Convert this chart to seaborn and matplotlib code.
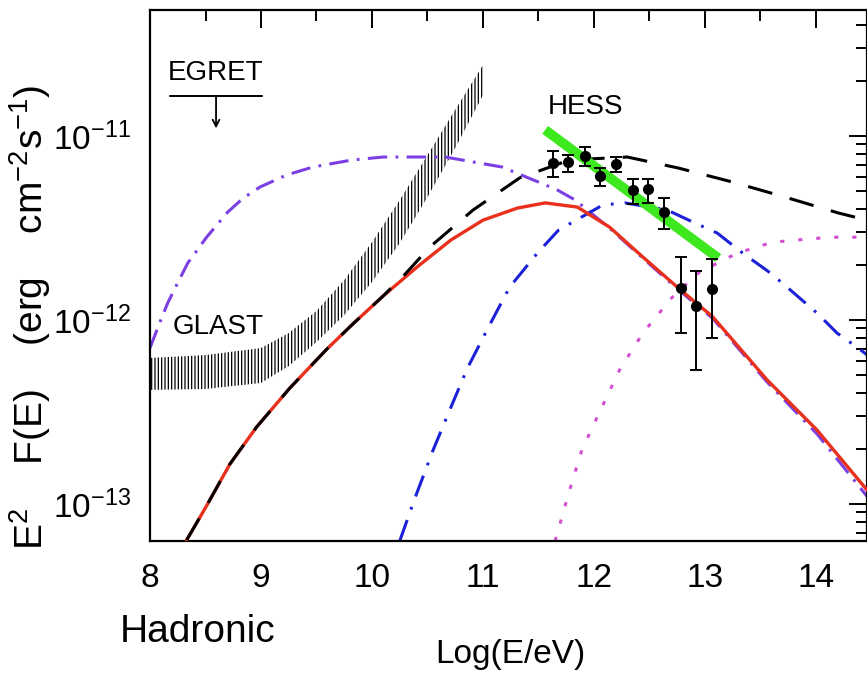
import numpy as np
import matplotlib
matplotlib.use("Agg")
import matplotlib.pyplot as plt
from matplotlib.ticker import MultipleLocator, LogLocator, NullFormatter, FixedLocator, FixedFormatter
import seaborn as sns

# Energies are log10(E/eV); fluxes are E^2 F(E) in units of 1e-12 erg cm^-2 s^-1
total_logE = [8.33, 8.50, 8.72, 8.96, 9.26, 9.59, 9.83, 10.10, 10.41, 10.71, 11.00,
              11.31, 11.56, 11.85, 12.14, 12.44, 12.75, 13.07, 13.56, 14.01, 14.46]
total_flux = [0.0637, 0.0955, 0.165, 0.262, 0.427, 0.692, 0.955, 1.35, 1.95, 2.72, 3.49,
              4.06, 4.33, 4.11, 3.20, 2.20, 1.51, 1.04, 0.472, 0.252, 0.119]

dashed_logE = [8.33, 8.50, 8.72, 8.96, 9.26, 9.59, 9.83, 10.10, 10.30, 10.52, 10.91,
               11.33, 11.78, 12.30, 12.76, 13.25, 13.72, 14.20, 14.46]
dashed_flux = [0.0637, 0.0955, 0.165, 0.262, 0.427, 0.692, 0.955, 1.35, 1.78, 2.49, 3.96,
               5.92, 7.41, 7.69, 6.70, 5.62, 4.66, 3.82, 3.49]

violet_logE = [8.00, 8.09, 8.16, 8.24, 8.34, 8.51, 8.70, 8.84, 8.99, 9.23, 9.47, 9.82,
               10.10, 10.43, 10.66, 10.91, 11.17, 11.50, 11.67, 11.83, 12.00, 12.14,
               12.44, 12.75, 13.07, 13.56, 14.01, 14.46]
violet_flux = [0.705, 0.975, 1.24, 1.55, 2.04, 2.82, 3.86, 4.60, 5.28, 6.14, 6.79, 7.41,
               7.69, 7.69, 7.69, 7.23, 6.79, 5.62, 5.09, 4.49, 3.70, 3.16,
               2.17, 1.48, 1.02, 0.46, 0.24, 0.11]

blue_logE = [10.25, 10.39, 10.55, 10.70, 10.86, 11.05, 11.24, 11.49, 11.68, 12.08, 12.28,
             12.66, 12.89, 13.11, 13.34, 13.59, 13.79, 14.01, 14.19, 14.38, 14.46]
blue_flux = [0.063, 0.109, 0.196, 0.324, 0.548, 0.916, 1.51, 2.31, 3.08, 4.22, 4.33,
             3.96, 3.41, 2.97, 2.31, 1.80, 1.42, 1.09, 0.849, 0.705, 0.646]

magenta_logE = [11.65, 11.78, 11.89, 12.05, 12.23, 12.44, 12.70, 12.95, 13.29, 13.61, 14.13, 14.46]
magenta_flux = [0.063, 0.119, 0.196, 0.316, 0.535, 0.849, 1.32, 1.82, 2.31, 2.65, 2.82, 2.82]

hess_fit_logE = [11.56, 13.12]
hess_fit_flux = [10.8, 2.17]

hess_logE = [11.63, 11.77, 11.92, 12.05, 12.20, 12.35, 12.49, 12.63, 12.78, 12.92, 13.06]
hess_flux = [7.13, 7.23, 7.78, 6.07, 7.05, 5.09, 5.15, 3.86, 1.49, 1.19, 1.47]
hess_low = [5.98, 6.37, 6.87, 5.35, 6.37, 4.27, 4.33, 3.13, 0.849, 0.535, 0.798]
hess_high = [8.28, 7.89, 8.71, 6.70, 7.69, 5.83, 5.83, 4.60, 2.20, 1.85, 2.15]

glast_logE = [8.0, 8.5, 9.0, 9.25, 9.5, 9.75, 10.0, 10.25, 10.5, 10.75, 11.0]
glast_low = [0.417, 0.422, 0.455, 0.562, 0.759, 1.065, 1.61, 2.62, 4.66, 8.61, 16.7]
glast_high = [0.622, 0.645, 0.704, 0.850, 1.12, 1.65, 2.65, 4.49, 7.88, 13.9, 24.3]

egret_limit_logE = [8.18, 9.01]
egret_limit_flux = 16.5

x_ticks = [8, 9, 10, 11, 12, 13, 14]
y_ticks = [1e-13, 1e-12, 1e-11]
y_tick_labels = [r"$10^{-13}$", r"$10^{-12}$", r"$10^{-11}$"]

UNIT = 1e-12

sns.set_style("white")
plt.rcParams["font.family"] = ["Liberation Sans", "DejaVu Sans"]
plt.rcParams["mathtext.fontset"] = "custom"
plt.rcParams["mathtext.rm"] = "Liberation Sans"
plt.rcParams["mathtext.it"] = "Liberation Sans"
plt.rcParams["mathtext.bf"] = "Liberation Sans"
plt.rcParams["text.color"] = "black"
plt.rcParams["axes.labelcolor"] = "black"
plt.rcParams["xtick.color"] = "black"
plt.rcParams["ytick.color"] = "black"
plt.rcParams["lines.scale_dashes"] = False
plt.rcParams["hatch.linewidth"] = 0.9

fig = plt.figure(figsize=(8.67, 6.73), dpi=100)
ax = fig.add_axes([150 / 867, 132 / 673, 717 / 867, 531 / 673])
ax.set_yscale("log")

def u(vals):
    return np.asarray(vals, dtype=float) * UNIT

# GLAST sensitivity band
ax.fill_between(glast_logE, u(glast_low), u(glast_high), facecolor="none",
                edgecolor="black", hatch="|||||", linewidth=0, zorder=1)

sns.lineplot(x=violet_logE, y=u(violet_flux), ax=ax, color="#7b3fe4", lw=2.2,
             linestyle=(0, (14, 6, 2, 6)), sort=False, estimator=None, zorder=2)
sns.lineplot(x=blue_logE, y=u(blue_flux), ax=ax, color="#1c22d8", lw=2.2,
             linestyle=(0, (16, 8, 2, 8)), sort=False, estimator=None, zorder=2)
sns.lineplot(x=magenta_logE, y=u(magenta_flux), ax=ax, color="#d34fd0", lw=2.2,
             linestyle=(0, (3, 10)), sort=False, estimator=None, zorder=2)
sns.lineplot(x=total_logE, y=u(total_flux), ax=ax, color="#e8301c", lw=2.4,
             sort=False, estimator=None, zorder=3)
sns.lineplot(x=dashed_logE, y=u(dashed_flux), ax=ax, color="black", lw=2.2,
             linestyle=(0, (18, 13)), sort=False, estimator=None, zorder=4)
sns.lineplot(x=hess_fit_logE, y=u(hess_fit_flux), ax=ax, color="#3ee81e", lw=7,
             solid_capstyle="butt", sort=False, estimator=None, zorder=4)

flux = u(hess_flux)
yerr = [flux - u(hess_low), u(hess_high) - flux]
ax.errorbar(hess_logE, flux, yerr=yerr, fmt="o", color="black", ms=7,
            capsize=4, elinewidth=1.4, capthick=1.4, zorder=5)

# EGRET upper limit
ax.plot(egret_limit_logE, [egret_limit_flux * UNIT] * 2, color="black", lw=1.4)
mid = np.mean(egret_limit_logE)
ax.annotate("", xy=(mid, 11.0 * UNIT), xytext=(mid, egret_limit_flux * UNIT),
            arrowprops=dict(arrowstyle="->", lw=1.3, color="black",
                            shrinkA=0, shrinkB=0, mutation_scale=12))
ax.text(mid, 22.0 * UNIT, "EGRET", ha="center", va="center", fontsize=20)
ax.text(8.2, 0.916 * UNIT, "GLAST", ha="left", va="center", fontsize=20)
ax.text(11.92, 14.4 * UNIT, "HESS", ha="center", va="center", fontsize=20)

ax.set_xlim(8, 8 + 717 / 111)
ax.set_ylim(10 ** -13.201, 10 ** -10.315)

ax.xaxis.set_major_locator(FixedLocator(x_ticks))
ax.xaxis.set_minor_locator(MultipleLocator(0.5))
ax.set_xticklabels([str(t) for t in x_ticks])
ax.yaxis.set_major_locator(FixedLocator(y_ticks))
ax.yaxis.set_major_formatter(FixedFormatter(y_tick_labels))
ax.yaxis.set_minor_locator(LogLocator(base=10, subs=np.arange(2, 10)))
ax.yaxis.set_minor_formatter(NullFormatter())

ax.tick_params(which="both", direction="in", top=True, right=True, colors="black")
ax.tick_params(which="major", length=13, width=1.4, labelsize=24)
ax.tick_params(which="minor", length=8, width=1.4)
ax.tick_params(axis="x", which="major", pad=16)
ax.tick_params(axis="y", which="major", pad=14)
for s in ax.spines.values():
    s.set_linewidth(1.6)
    s.set_color("black")

ax.set_xlabel("")
ax.set_ylabel("")
fig.text(510 / 867, 1 - 655 / 673, "Log(E/eV)", ha="center", va="center", fontsize=24)
fig.text(30 / 867, 1 - 317 / 673,
         r"E$^{2}$    F(E)    (erg    cm$^{-2}$s$^{-1}$)",
         rotation=90, ha="center", va="center", fontsize=28)
fig.text(120 / 867, 1 - 632 / 673, "Hadronic", ha="left", va="center", fontsize=28)

fig.savefig("out.png", dpi=100)
